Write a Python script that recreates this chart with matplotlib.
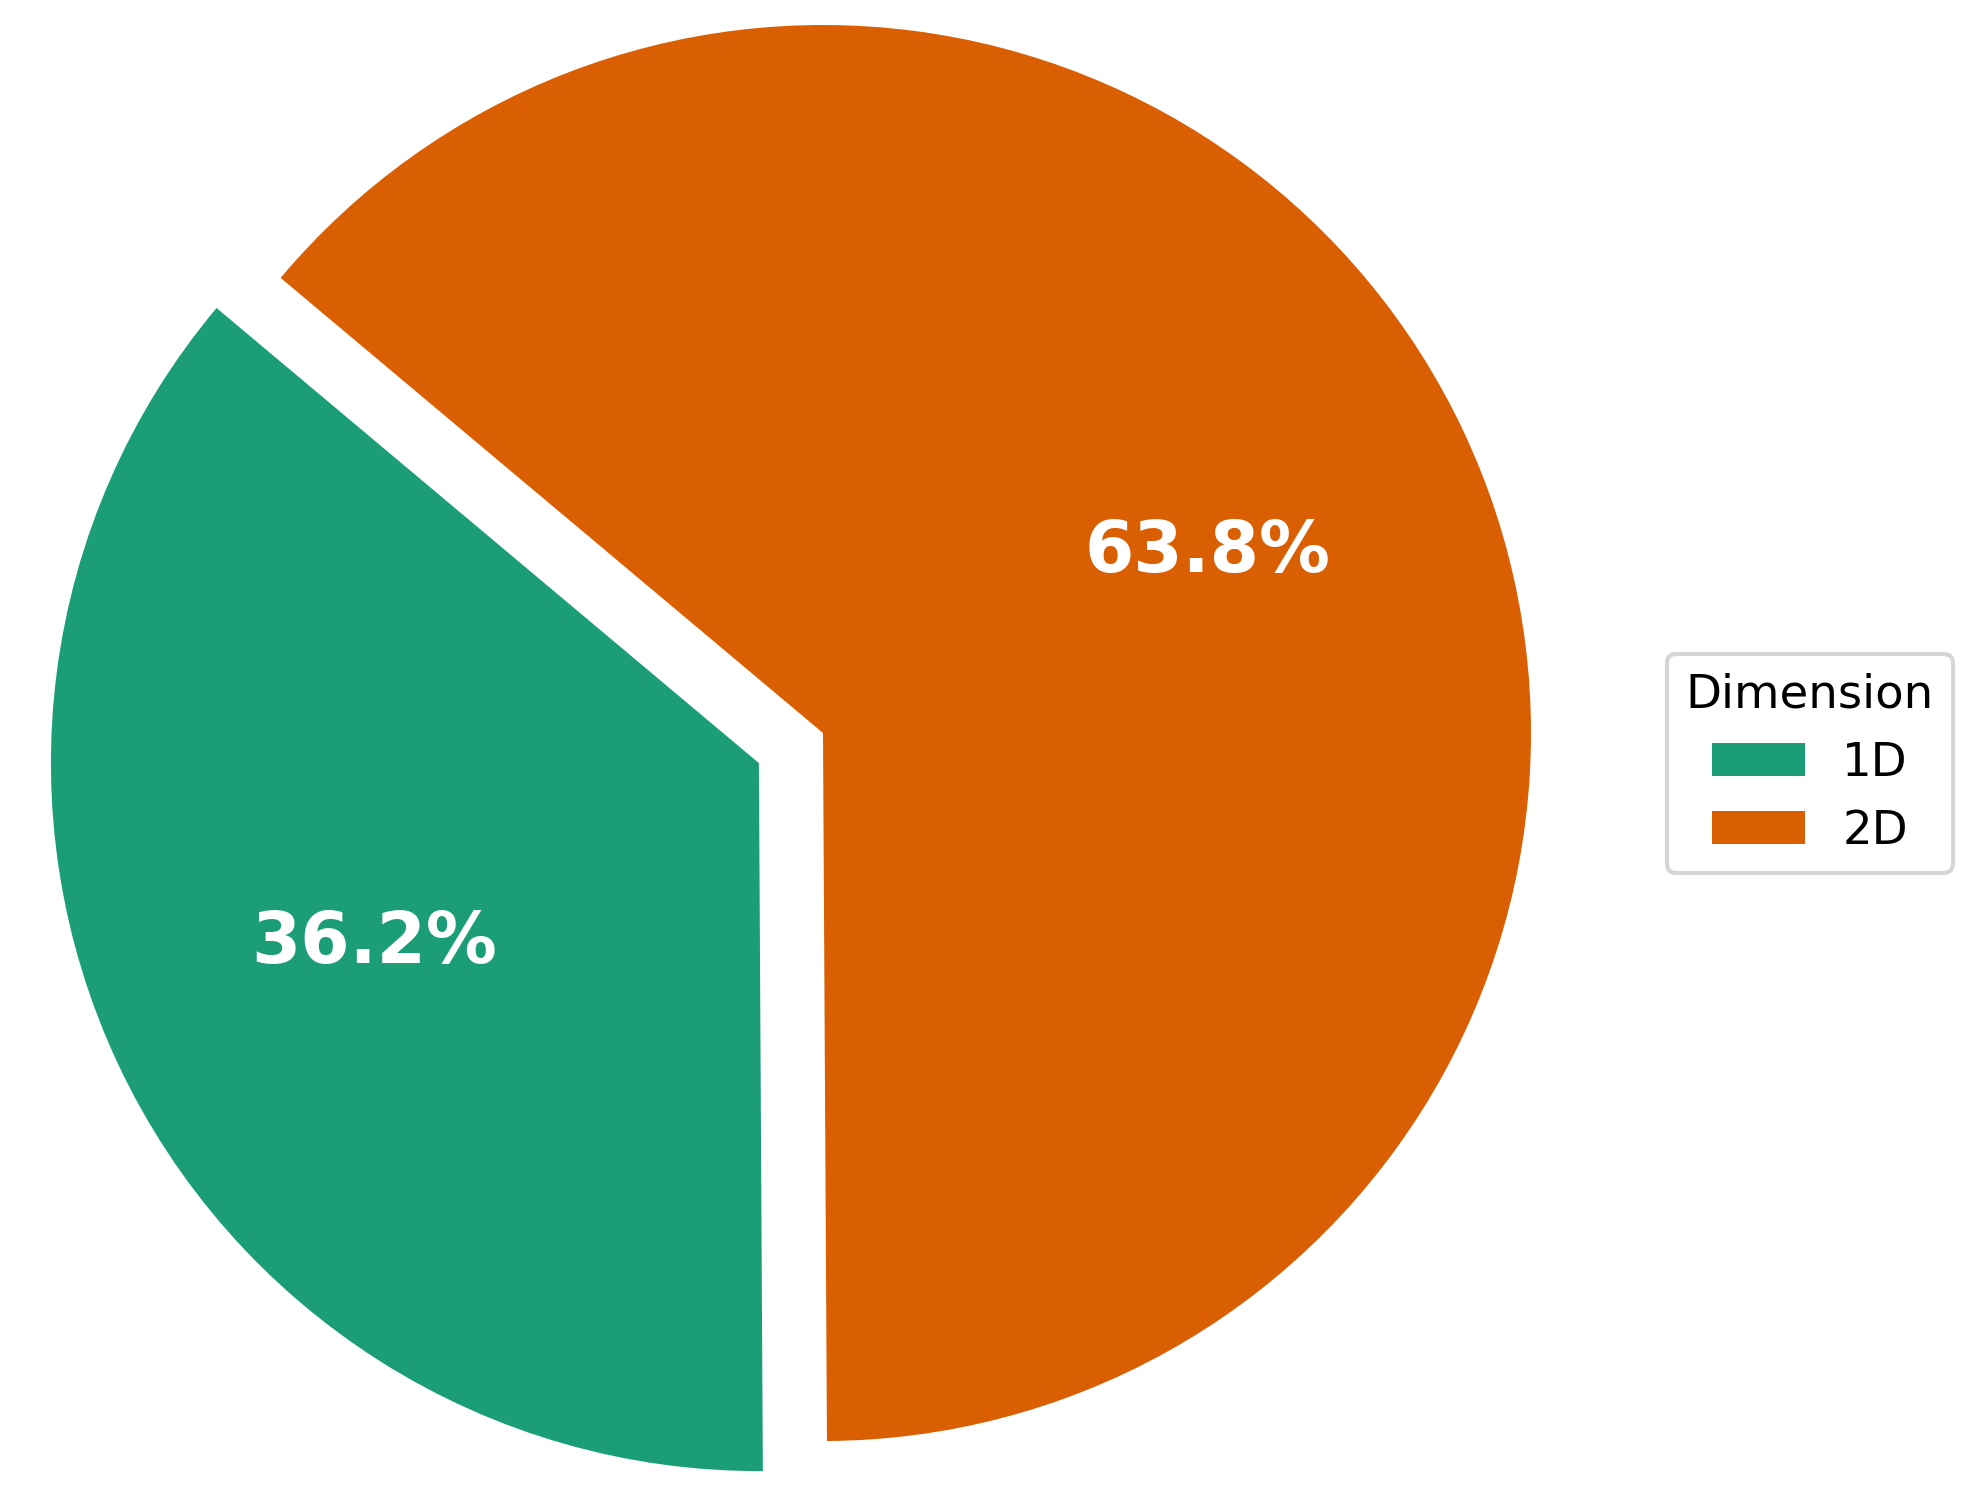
import matplotlib.pyplot as plt

# Data
labels = ['1D', '2D']
shares = [36.2, 63.8]
colors = ['#1b9e77', '#d95f02']
explode = [0.1, 0]

fig = plt.figure(figsize=(1971 / 300, 1507 / 300), dpi=300)
ax = fig.add_axes([0, 0, 1, 1])

wedges, texts, autotexts = ax.pie(
    shares, explode=explode, colors=colors, startangle=140,
    autopct='%1.1f%%', pctdistance=0.6,
    textprops={'color': 'white', 'fontsize': 17, 'fontweight': 'bold'})

# Place the pie inside the canvas (1 unit = 708 px)
ax.set_xlim(-823 / 708, (1971 - 823) / 708)
ax.set_ylim(-(1507 - 733) / 708, 733 / 708)
ax.set_aspect('equal', adjustable='box')

ax.legend(wedges, labels, title='Dimension', loc='center left',
          bbox_to_anchor=(1667 / 1971, 1 - 763 / 1507),
          bbox_transform=fig.transFigure, borderaxespad=0,
          fontsize=11.2, title_fontsize=11.2)

fig.savefig('out.png', dpi=300)
